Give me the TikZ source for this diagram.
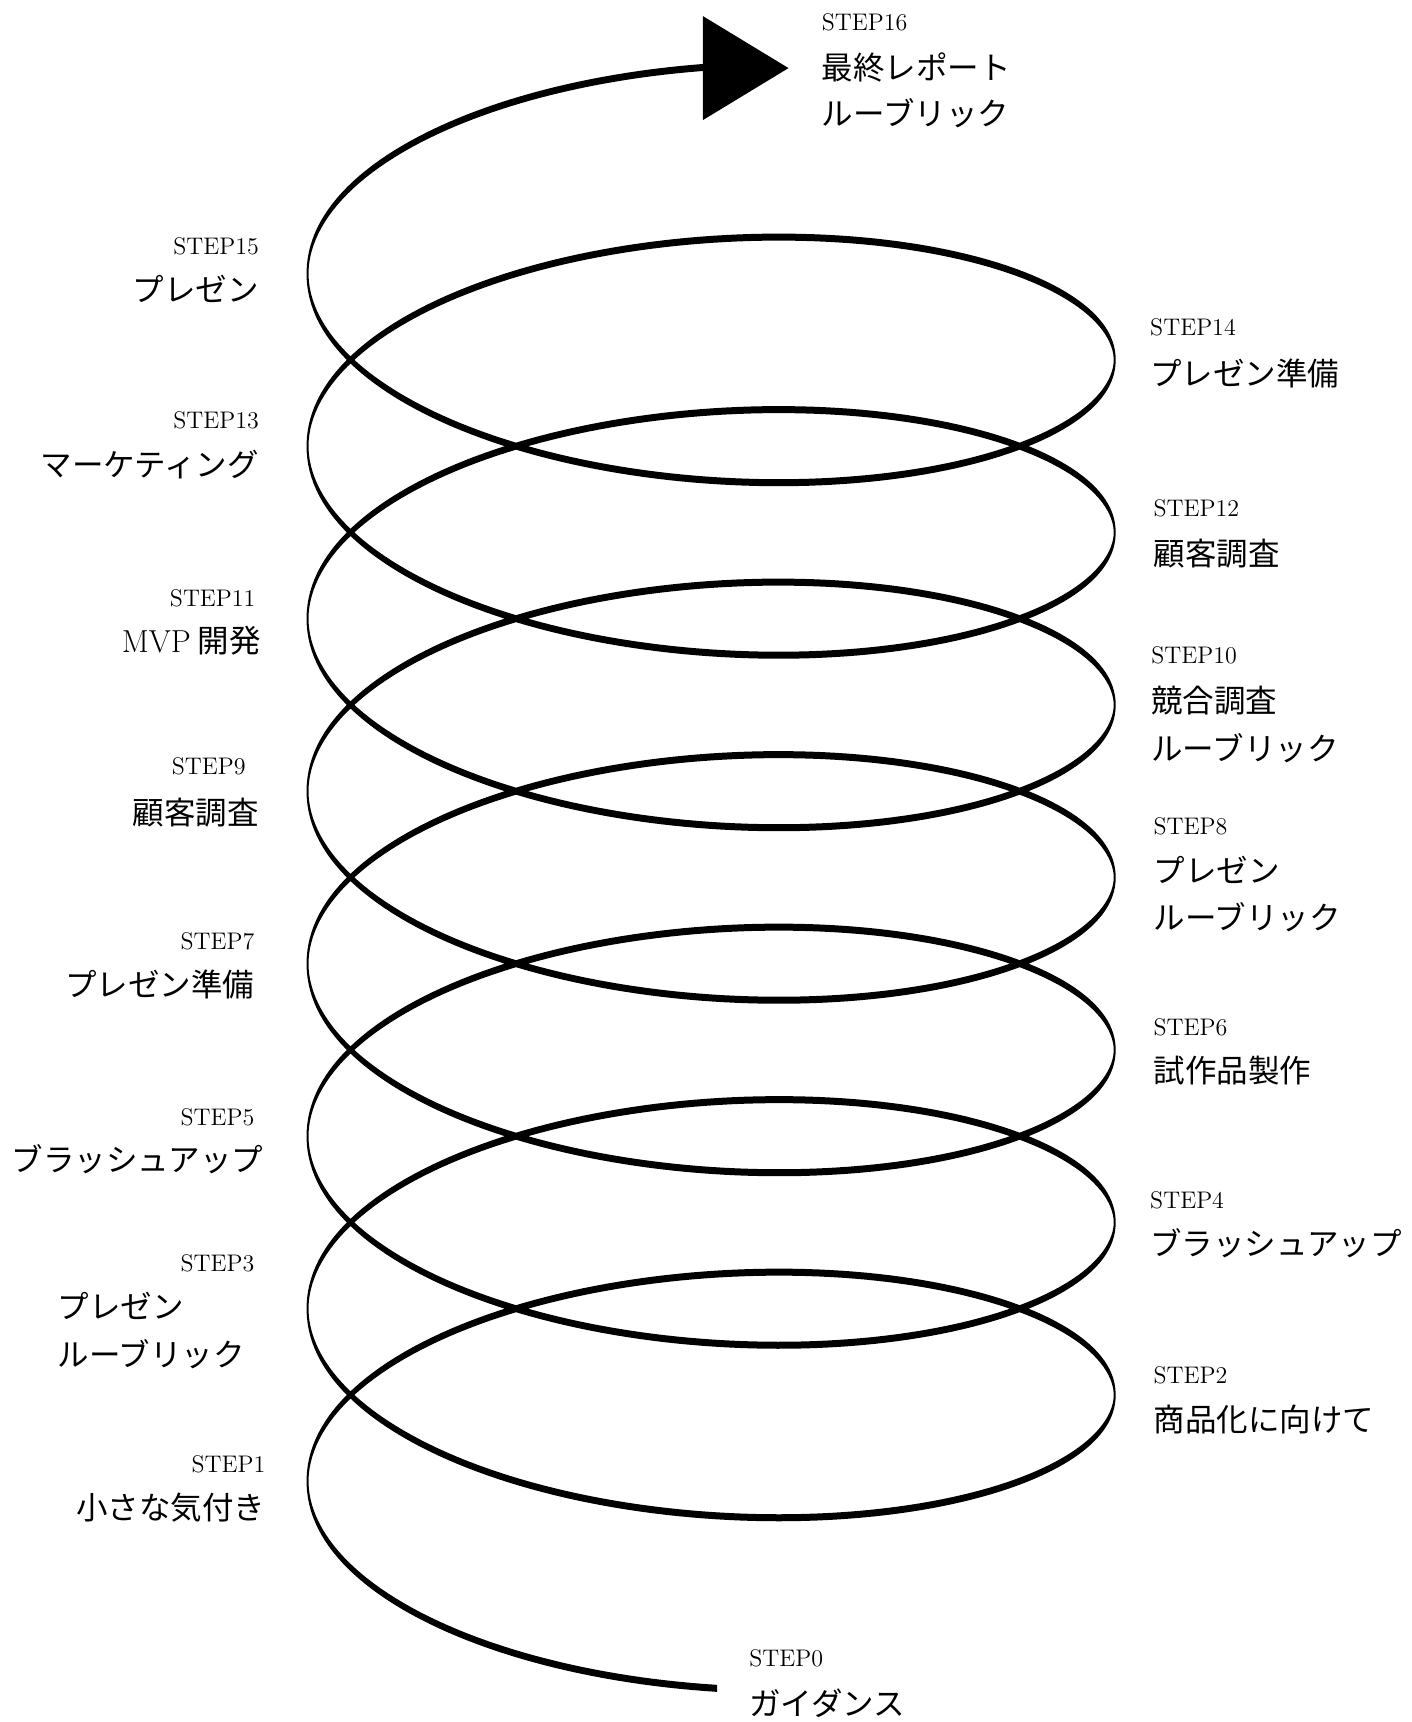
\documentclass[tikz,border=0pt]{standalone}
\usepackage{fontspec}
\newfontfamily\jpfont{Noto Sans CJK JP}
\tikzset{
  stp/.style={inner sep=0pt, font=\fontsize{12}{14}\selectfont},
  jp/.style={inner sep=0pt, font=\jpfont\fontsize{15.75}{18}\selectfont},
  mvp/.style={inner sep=0pt, font=\fontsize{15.9}{18}\selectfont},
  spiral/.style={line width=3.5pt, line join=round, line cap=butt},
}
\begin{document}
\begin{tikzpicture}[x=0.549pt, y=-0.549pt]
\useasboundingbox (0,0) rectangle (1285,1568);
% helix drawn in a horizontally compressed canvas: thin where vertical, thick where horizontal
\begin{scope}[overlay, transform canvas={xscale=0.28}]
\draw[spiral] plot[domain=-0.015:47.124, samples=1500, variable=\t]
  ({(647.5-367.5*sin(\t r))/0.28}, {1388+149*cos(\t r)-25*\t});
\end{scope}
\coordinate (tipbase) at (640,62);
\coordinate (tip) at (718,62);
\fill ([yshift=-26]tipbase) -- ([yshift=26]tipbase) -- (tip) -- cycle;

% top
\node[stp, anchor=base west] (s16) at (748,27.5) {STEP16};
\node[jp, anchor=base west] (t16a) at (748,72.6) {最終レポート};
\node[jp, anchor=base west] (t16b) at (748,114.6) {ルーブリック};

% left column
\node[stp, anchor=base east] (s15) at (236,231.5) {STEP15};
\node[jp, anchor=base east] (t15) at (236,274.6) {プレゼン};
\node[stp, anchor=base east] (s13) at (236,390.5) {STEP13};
\node[jp, anchor=base east] (t13) at (236,433.6) {マーケティング};
\node[stp, anchor=base east] (s11) at (233,552.5) {STEP11};
\node[mvp, anchor=base east] (t11) at (238,594.5) {MVP\hspace{3.5pt}{\jpfont\fontsize{15.75}{18}\selectfont 開発}};
\node[stp, anchor=base east] (s9) at (224,705.5) {STEP9};
\node[jp, anchor=base east] (t9) at (236,750.6) {顧客調査};
\node[stp, anchor=base east] (s7) at (232,864.5) {STEP7};
\node[jp, anchor=base east] (t7) at (232,907.6) {プレゼン準備};
\node[stp, anchor=base east] (s5) at (232,1024.5) {STEP5};
\node[jp, anchor=base east] (t5) at (240,1066.6) {ブラッシュアップ};
\node[stp, anchor=base east] (s3) at (232,1157.5) {STEP3};
\node[jp, anchor=base west] (t3a) at (52,1200.6) {プレゼン};
\node[jp, anchor=base west] (t3b) at (52,1244.6) {ルーブリック};
\node[stp, anchor=base east] (s1) at (242,1340.5) {STEP1};
\node[jp, anchor=base east] (t1) at (242,1383.6) {小さな気付き};

% right column
\node[stp, anchor=base west] (s14) at (1047,305.5) {STEP14};
\node[jp, anchor=base west] (t14) at (1047,350.6) {プレゼン準備};
\node[stp, anchor=base west] (s12) at (1050,470.5) {STEP12};
\node[jp, anchor=base west] (t12) at (1050,514.6) {顧客調査};
\node[stp, anchor=base west] (s10) at (1048,604.5) {STEP10};
\node[jp, anchor=base west] (t10a) at (1048,648.6) {競合調査};
\node[jp, anchor=base west] (t10b) at (1048,692.6) {ルーブリック};
\node[stp, anchor=base west] (s8) at (1050,759.5) {STEP8};
\node[jp, anchor=base west] (t8a) at (1050,803.6) {プレゼン};
\node[jp, anchor=base west] (t8b) at (1050,846.6) {ルーブリック};
\node[stp, anchor=base west] (s6) at (1050,942.5) {STEP6};
\node[jp, anchor=base west] (t6) at (1050,985.6) {試作品製作};
\node[stp, anchor=base west] (s4) at (1047,1100.5) {STEP4};
\node[jp, anchor=base west] (t4) at (1047,1143.6) {ブラッシュアップ};
\node[stp, anchor=base west] (s2) at (1050,1259.5) {STEP2};
\node[jp, anchor=base west] (t2) at (1050,1303.6) {商品化に向けて};

% bottom
\node[stp, anchor=base west] (s0) at (682,1517.5) {STEP0};
\node[jp, anchor=base west] (t0) at (682,1562) {ガイダンス};
\end{tikzpicture}
\end{document}
